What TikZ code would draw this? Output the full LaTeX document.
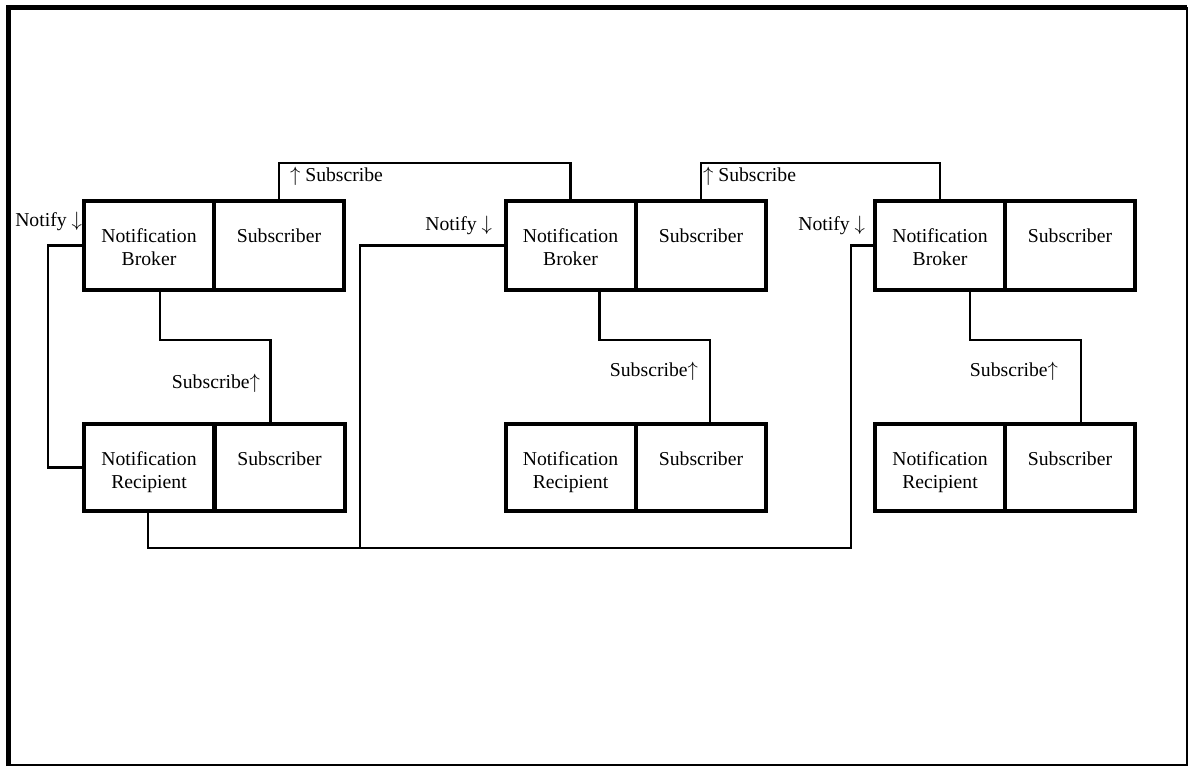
\documentclass[tikz,border=0pt]{standalone}
\usepackage{fontspec}
\setmainfont{Liberation Serif}
\usetikzlibrary{calc}
\newcommand{\upar}{\ensuremath{\uparrow}}
\newcommand{\downar}{\ensuremath{\downarrow}}
\begin{document}
\begin{tikzpicture}[x=1pt,y=-1pt,
  half/.style={draw, line width=4, rectangle, minimum width=130, inner sep=0, outer sep=0},
  conn/.style={line width=2.2},
  txt/.style={inner sep=0, outer sep=0, font=\fontsize{19.7pt}{23pt}\selectfont}]
\useasboundingbox (0,0) rectangle (1188,766);
% page frame: thin right/bottom edges, heavy left/top edges
\draw[line width=2] (8.5,7.5) rectangle (1186.5,765);
\draw[line width=5.5] (8.5,766) -- (8.5,7.5) -- (1187,7.5);

% group 1
\node[half, minimum height=89] (nb1) at (149,245.5) {};
\node[half, minimum height=89] (sb1) at (279,245.5) {};
\node[half, minimum height=87] (nr1) at (149,467.5) {};
\node[half, minimum height=87] (sr1) at (279.5,467.5) {};
% group 2
\node[half, minimum height=89] (nb2) at (570.5,245.5) {};
\node[half, minimum height=89] (sb2) at (701,245.5) {};
\node[half, minimum height=87] (nr2) at (570.5,467.5) {};
\node[half, minimum height=87] (sr2) at (701,467.5) {};
% group 3
\node[half, minimum height=89] (nb3) at (940,245.5) {};
\node[half, minimum height=89] (sb3) at (1070,245.5) {};
\node[half, minimum height=87] (nr3) at (940,467.5) {};
\node[half, minimum height=87] (sr3) at (1070,467.5) {};

% box captions
\foreach \g in {1,2,3}{
  \node[txt, anchor=base] (tb\g a) at ($(nb\g.north)+(0,41)$) {Notification};
  \node[txt, anchor=base] (tb\g b) at ($(nb\g.north)+(0,64)$) {Broker};
  \node[txt, anchor=base] (ts\g) at ($(sb\g.north)+(0,41)$) {Subscriber};
  \node[txt, anchor=base] (tr\g a) at ($(nr\g.north)+(0,41)$) {Notification};
  \node[txt, anchor=base] (tr\g b) at ($(nr\g.north)+(0,64)$) {Recipient};
  \node[txt, anchor=base] (tq\g) at ($(sr\g.north)+(0,41)$) {Subscriber};
}

% notify loop inside group 1
\draw[conn] (nb1.west) -- ++(-36,0) |- (nr1.west);
% broker to local subscriber
\draw[conn] ($(nb1.south west)+(76,0)$) -- ++(0,50) -| ($(sr1.north west)+(56,0)$);
\draw[conn] ($(nb2.south west)+(94,0)$) -- ++(0,50) -| ($(sr2.north west)+(74,0)$);
\draw[conn] ($(nb3.south west)+(95,0)$) -- ++(0,50) -| ($(sr3.north west)+(76,0)$);
% subscriber of one broker to the next broker
\draw[conn] (sb1.north) -- ++(0,-38) -| (nb2.north);
\draw[conn] (sb2.north) -- ++(0,-38) -| (nb3.north);
% notification bus from recipient 1 to brokers 2 and 3
\coordinate (j2) at (360,548);
\draw[conn] ($(nr1.south west)+(64,0)$) |- (851,548) |- (nb3.west);
\draw[conn] (j2) |- (nb2.west);

% connector labels
\node[txt, anchor=base east] (ln1) at (82,226) {Notify \downar};
\node[txt, anchor=base east] (ln2) at (492,230) {Notify \downar};
\node[txt, anchor=base east] (ln3) at (865,230) {Notify \downar};
\node[txt, anchor=base west] (lu1) at (290,181) {\upar{} Subscribe};
\node[txt, anchor=base west] (lu2) at (703,181) {\upar{} Subscribe};
\node[txt, anchor=base east] (ls1) at (260,388) {Subscribe\upar};
\node[txt, anchor=base east] (ls2) at (698,376) {Subscribe\upar};
\node[txt, anchor=base east] (ls3) at (1058,376) {Subscribe\upar};
\end{tikzpicture}
\end{document}
